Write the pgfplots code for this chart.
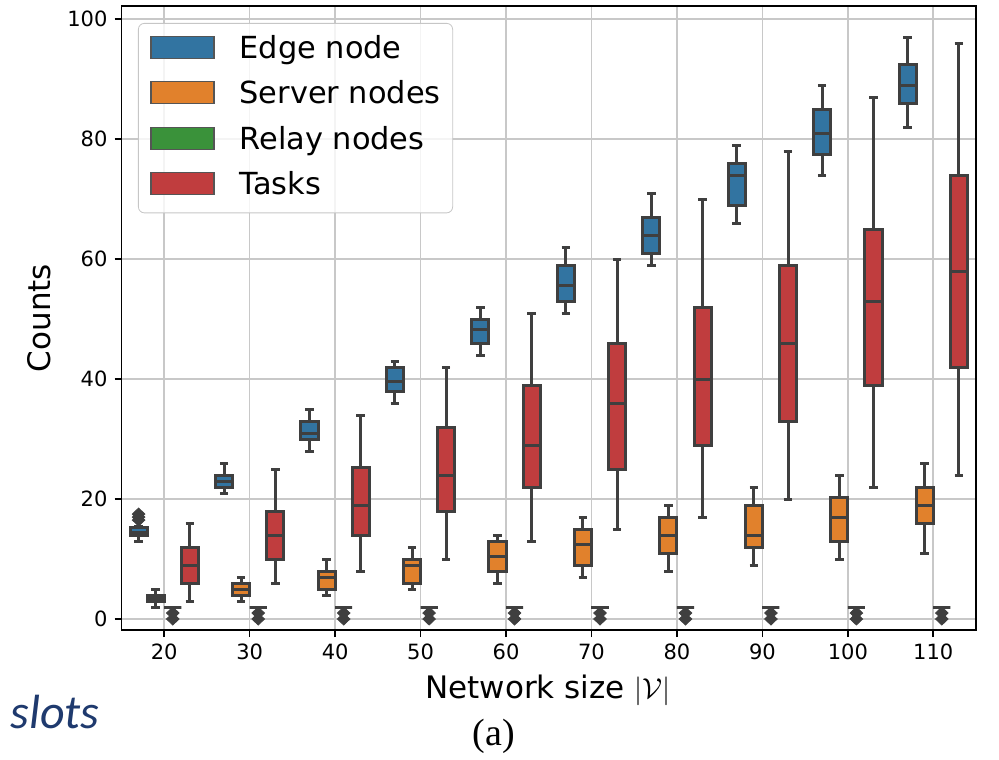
\documentclass[border=0pt]{standalone}
\usepackage{fontspec}
\setmainfont{DejaVu Sans}
\newfontfamily\carlito{Carlito}
\newfontfamily\lserif{Liberation Serif}
\usepackage{pgfplots}
\pgfplotsset{compat=1.18}
\usepgfplotslibrary{statistics}
\definecolor{cE}{HTML}{3274A1}
\definecolor{cS}{HTML}{E1812C}
\definecolor{cR}{HTML}{3A923A}
\definecolor{cT}{HTML}{C03D3E}
\definecolor{bedge}{HTML}{3F3F3F}
\definecolor{gridc}{HTML}{C8C8C8}
\definecolor{navy}{HTML}{1F3A6E}
\definecolor{legedge}{HTML}{555555}

% colour, position, lower whisker, lower quartile, median, upper quartile, upper whisker
\newcommand{\bx}[7]{%
\addplot[forget plot, draw=bedge, line width=1.5pt, fill=#1,
  boxplot prepared={draw direction=y, draw position=#2, lower whisker=#3, lower quartile=#4,
  median=#5, upper quartile=#6, upper whisker=#7, box extend=0.2, whisker extend=0.1}]
  coordinates {};}

\begin{document}
\begin{tikzpicture}
\useasboundingbox (0,0) rectangle (499.5pt,379.5pt);
\begin{axis}[
  at={(60.75pt,64.5pt)}, anchor=south west, scale only axis,
  width=427.25pt, height=312pt,
  xmin=-0.5, xmax=9.5, ymin=-1.83, ymax=102.2,
  xtick={0,1,2,3,4,5,6,7,8,9},
  xticklabels={20,30,40,50,60,70,80,90,100,110},
  ytick={0,20,40,60,80,100},
  grid=major, major grid style={gridc, line width=0.8pt},
  axis line style={black, line width=0.8pt},
  tick align=outside, tick pos=left, major tick length=3.5pt,
  tick style={black, line width=0.8pt},
  ticklabel style={font=\fontsize{10.5}{12}\selectfont},
  /pgf/number format/assume math mode=true,
  legend cell align=left,
  legend style={at={(0.0193,0.9728)}, anchor=north west,
    draw=gray!45, rounded corners=3pt, fill=white, fill opacity=0.8,
    text opacity=1, draw opacity=1, inner xsep=6pt, inner ysep=6pt,
    font=\fontsize{15.2}{17}\selectfont, row sep=8.25pt, column sep=12.5pt,
    nodes={inner sep=0pt, text height=11.5pt, text depth=3pt, anchor=base west}},
]
\addlegendimage{legend image code/.code={\draw[sharp corners, fill opacity=1, fill=cE, draw=legedge, line width=0.6pt] (0pt,0pt) rectangle (31.5pt,11pt);}}
\addlegendentry{Edge node}
\addlegendimage{legend image code/.code={\draw[sharp corners, fill opacity=1, fill=cS, draw=legedge, line width=0.6pt] (0pt,0pt) rectangle (31.5pt,11pt);}}
\addlegendentry{Server nodes}
\addlegendimage{legend image code/.code={\draw[sharp corners, fill opacity=1, fill=cR, draw=legedge, line width=0.6pt] (0pt,0pt) rectangle (31.5pt,11pt);}}
\addlegendentry{Relay nodes}
\addlegendimage{legend image code/.code={\draw[sharp corners, fill opacity=1, fill=cT, draw=legedge, line width=0.6pt] (0pt,0pt) rectangle (31.5pt,11pt);}}
\addlegendentry{Tasks}

% Edge node
\bx{cE}{-0.3}{13}{14}{14.5}{15.2}{15.4}
\bx{cE}{0.7}{21}{22}{23}{24}{26}
\bx{cE}{1.7}{28}{30}{31}{33}{35}
\bx{cE}{2.7}{36}{38}{39.6}{42}{43}
\bx{cE}{3.7}{44}{46}{48.2}{50}{52}
\bx{cE}{4.7}{51}{53}{55.6}{59}{62}
\bx{cE}{5.7}{59}{61}{64}{67}{71}
\bx{cE}{6.7}{66}{69}{74}{76}{79}
\bx{cE}{7.7}{74}{77.5}{81}{85}{89}
\bx{cE}{8.7}{82}{86}{89}{92.5}{97}
% Server nodes
\bx{cS}{-0.1}{2}{3}{3.5}{4}{5}
\bx{cS}{0.9}{3}{4}{5}{6}{7}
\bx{cS}{1.9}{4}{5}{7}{8}{10}
\bx{cS}{2.9}{5}{6}{9}{10}{12}
\bx{cS}{3.9}{6}{8}{10.5}{13}{14}
\bx{cS}{4.9}{7}{9}{12.5}{15}{17}
\bx{cS}{5.9}{8}{11}{14}{17}{19}
\bx{cS}{6.9}{9}{12}{14}{19}{22}
\bx{cS}{7.9}{10}{13}{17}{20.3}{24}
\bx{cS}{8.9}{11}{16}{19}{22}{26}
% Relay nodes
\bx{cR}{0.1}{2}{2}{2}{2}{2}
\bx{cR}{1.1}{2}{2}{2}{2}{2}
\bx{cR}{2.1}{2}{2}{2}{2}{2}
\bx{cR}{3.1}{2}{2}{2}{2}{2}
\bx{cR}{4.1}{2}{2}{2}{2}{2}
\bx{cR}{5.1}{2}{2}{2}{2}{2}
\bx{cR}{6.1}{2}{2}{2}{2}{2}
\bx{cR}{7.1}{2}{2}{2}{2}{2}
\bx{cR}{8.1}{2}{2}{2}{2}{2}
\bx{cR}{9.1}{2}{2}{2}{2}{2}
% Tasks
\bx{cT}{0.3}{3}{6}{9}{12}{16}
\bx{cT}{1.3}{6}{10}{14}{18}{25}
\bx{cT}{2.3}{8}{14}{19}{25.2}{34}
\bx{cT}{3.3}{10}{18}{24}{32}{42}
\bx{cT}{4.3}{13}{22}{29}{39}{51}
\bx{cT}{5.3}{15}{25}{36}{46}{60}
\bx{cT}{6.3}{17}{29}{40}{52}{70}
\bx{cT}{7.3}{20}{33}{46}{59}{78}
\bx{cT}{8.3}{22}{39}{53}{65}{87}
\bx{cT}{9.3}{24}{42}{58}{74}{96}

% outliers
\addplot[forget plot, only marks, mark=diamond*, mark size=3pt,
  mark options={fill=bedge, draw=bedge, line width=0.4pt, xscale=1.4}]
  coordinates {(-0.3,16.5) (-0.3,17) (-0.3,17.5)
  (0.1,1) (0.1,0) (1.1,1) (1.1,0) (2.1,1) (2.1,0) (3.1,1) (3.1,0)
  (4.1,1) (4.1,0) (5.1,1) (5.1,0) (6.1,1) (6.1,0) (7.1,1) (7.1,0)
  (8.1,1) (8.1,0) (9.1,1) (9.1,0)};
\end{axis}
\node[rotate=90, font=\fontsize{15.5}{18}\selectfont] at (19.5pt,220.5pt) {Counts};
\node[font=\fontsize{15.5}{18}\selectfont] at (274pt,34.5pt) {Network size $|\mathcal{V}|$};
\node[font=\lserif\fontsize{19}{22}\selectfont] at (247pt,11.5pt) {(a)};
\node[font=\carlito\itshape\fontsize{24}{28}\selectfont, text=navy] at (27.5pt,23.5pt) {slots};
\end{tikzpicture}
\end{document}
